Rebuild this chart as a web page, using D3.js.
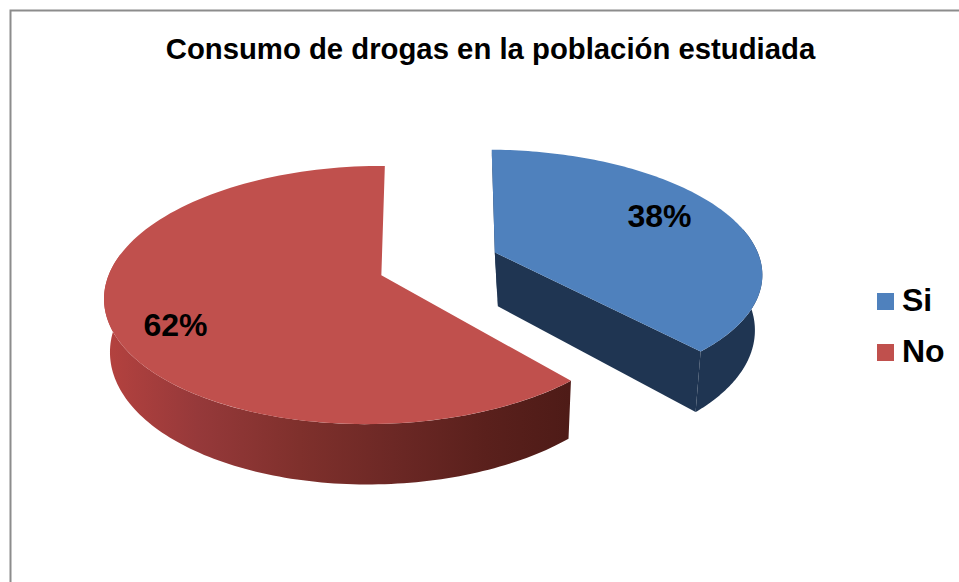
<!DOCTYPE html>
<html>
<head>
<meta charset="utf-8">
<script src="https://cdnjs.cloudflare.com/ajax/libs/d3/7.8.5/d3.min.js"></script>
<style>
  html, body { margin: 0; padding: 0; background: #fff; }
  svg { display: block; font-family: "Liberation Sans", Arial, sans-serif; font-weight: bold; fill: #000; }
</style>
</head>
<body>
<svg id="chart" width="959" height="582"></svg>
<script>
const chartTitle = "Consumo de drogas en la población estudiada";
const categories = ["Si", "No"];
const shares = [38, 62];
const topColors = ["#4F81BD", "#C0504D"];
const wallColors = ["#1F3552", "url(#redWall)"];

const width = 959, height = 582;
const svg = d3.select("#chart");

// Perspective view of the pie plane: a = right, b = toward the viewer.
const view = { x0: 435, y0: 258.1, R: 269, T: 121.5 };

// Each wedge is pulled out of the pie separately and has its own view settings.
const pulled = [
  { a: 0.2275, b: -0.15, nudge: 12.5, k: 0.155, scale: 1, tall: 1.02, turn: 0, depth: 55, pivot: 572, taper: 0.961, apexDx: 0, apexDy: 0 },
  { a: -0.2216, b: 0.155, nudge: 0, k: 0.134, scale: 0.975, tall: 1, turn: -0.7 * Math.PI / 180, depth: 51, pivot: 435, taper: 0.982, apexDx: 5.7, apexDy: -2 }
];

function project(c, a, b, lowered) {
  const s = 1 / (1 - c.k * b);
  const x = view.x0 + view.R * c.scale * a * s;
  const y = view.y0 + view.T * c.tall * b * s + c.nudge;
  return lowered
    ? [c.pivot + (x - c.pivot) * c.taper, y + c.depth * s]
    : [x, y];
}

const pie = d3.pie().sort(null)
  .startAngle(1.2 * Math.PI / 180)
  .endAngle((360 + 1.2) * Math.PI / 180);
const wedges = pie(shares);

const line = d3.line();

function rimPoint(i, angle, lowered) {
  const c = pulled[i];
  const t = angle + c.turn;
  return project(c, c.a + Math.sin(t), c.b - Math.cos(t), lowered);
}
function apexPoint(i, lowered) {
  const c = pulled[i];
  const p = project(c, c.a, c.b, lowered);
  return [p[0] + c.apexDx, p[1] + c.apexDy];
}
function rim(i, from, to, lowered) {
  const steps = 120;
  return d3.range(steps + 1).map(n => rimPoint(i, from + (to - from) * n / steps, lowered));
}

// Shading along the outer wall of the red wedge.
const grad = svg.append("defs").append("linearGradient")
  .attr("id", "redWall")
  .attr("gradientUnits", "userSpaceOnUse")
  .attr("x1", 104).attr("x2", 570).attr("y1", 0).attr("y2", 0);
[[0, "#B5423F"], [0.2, "#96393A"], [0.42, "#7F302C"], [0.62, "#6C2825"], [0.82, "#5A201C"], [1, "#4E1B17"]]
  .forEach(([o, c]) => grad.append("stop").attr("offset", o).attr("stop-color", c));

// Frame: only the top and left edges are drawn.
svg.append("path")
  .attr("d", line([[10.5, height], [10.5, 10.5], [width, 10.5]]))
  .attr("fill", "none").attr("stroke", "#8C8C8C").attr("stroke-width", 2);

svg.append("text")
  .attr("x", 490.5).attr("y", 59)
  .attr("text-anchor", "middle")
  .attr("font-size", 29.3)
  .text(chartTitle);

// Wedges: cut faces and outer wall first, then the top face.
const layers = svg.append("g").selectAll("g").data(wedges).join("g");

// Only the blue wedge turns its cut faces toward the viewer.
layers.filter((d, i) => i === 0).each(function (d) {
  const g = d3.select(this);
  [d.startAngle, d.endAngle].forEach(angle => {
    g.append("path")
      .attr("fill", wallColors[0])
      .attr("d", line([
        apexPoint(0, false), rimPoint(0, angle, false), rimPoint(0, angle, true), apexPoint(0, true)
      ]) + "Z");
  });
});

// The outer wall is only seen on the near half of the rim.
const nearFrom = d => Math.max(d.startAngle, Math.PI / 2 - 0.2);
const nearTo = d => Math.min(d.endAngle, 3 * Math.PI / 2 + 0.2);
layers.append("path")
  .attr("fill", (d, i) => wallColors[i])
  .attr("d", (d, i) => line(
    rim(i, nearFrom(d), nearTo(d), false).concat(rim(i, nearTo(d), nearFrom(d), true))
  ) + "Z");
layers.append("path")
  .attr("fill", (d, i) => topColors[i])
  .attr("d", (d, i) => line(
    [apexPoint(i, false)].concat(rim(i, d.startAngle, d.endAngle, false))
  ) + "Z");

// Share labels placed on the top faces.
const labelSpots = [[659.5, 227], [175.5, 336]];
svg.append("g").selectAll("text").data(shares).join("text")
  .attr("x", (d, i) => labelSpots[i][0])
  .attr("y", (d, i) => labelSpots[i][1])
  .attr("text-anchor", "middle")
  .attr("font-size", 32)
  .text(d => d + "%");

// Legend
const legendY = d3.scalePoint().domain(categories).range([293, 344]);
const legend = svg.append("g").selectAll("g").data(categories).join("g")
  .attr("transform", d => `translate(877,${legendY(d)})`);
legend.append("rect")
  .attr("width", 17).attr("height", 17)
  .attr("fill", (d, i) => topColors[i]);
legend.append("text")
  .attr("x", 25).attr("y", 18)
  .attr("font-size", 32)
  .text(d => d);
</script>
</body>
</html>
